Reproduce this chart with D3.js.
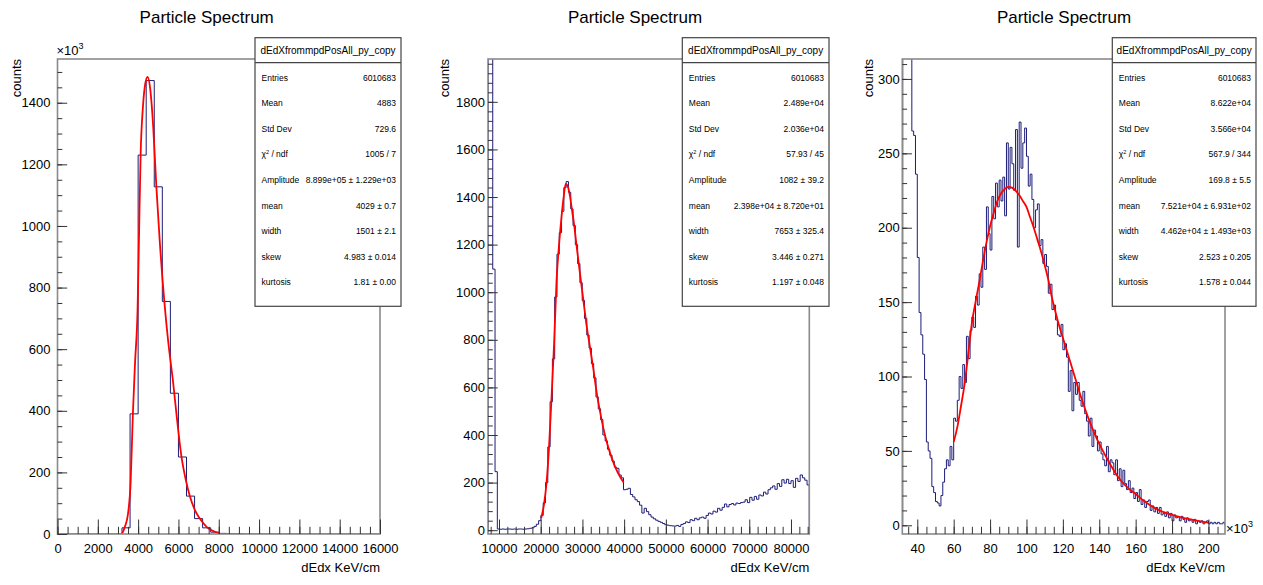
<!doctype html>
<html lang=en>
<head>
<meta charset=utf-8>
<title>Particle Spectrum</title>
<script src="https://d3js.org/d3.v7.min.js"></script>
<style>
  body { margin: 0; background: #fff; }
  svg { display: block; }
  text { font-family: "Liberation Sans", Arial, Helvetica, sans-serif; fill: #000; }
</style>
</head>
<body>
<div id="container"></div>
<script>
// ---- values ----
var histName = "dEdXfrommpdPosAll_py_copy";
var statLabels = ["Entries", "Mean", "Std Dev", "chi2", "Amplitude", "mean", "width", "skew", "kurtosis"];

// panel 1 (counts in units of 10^3)
var h1Start = 0, h1Width = 400;
var h1Counts = [0,0,0,0,0,0,0,0,20,390,1230,1472,1127,755,457,250,123,50,20,6,2,1,1,0,
                0,0,0,0,0,0,0,0,0,0,0,0,0,0,0,0];
var fit1X = [3200,3350,3490,3630,3740,3850,3975,4040,4124,4240,4350,4470,4600,4750,4905,5070,5300,5500,5730,5900,6150,6350,6560,6800,7060,7450,7750,8050];
var fit1Y = [0,25,62,170,391,560,735,953,1231,1388,1460,1484,1445,1320,1127,953,755,620,496,391,251,180,124,80,50,20,9,2];
var stats1 = ["6010683", "4883", "729.6", "1005 / 7", "8.899e+05 \u00b1 1.229e+03", "4029 \u00b1 0.7",
              "1501 \u00b1 2.1", "4.983 \u00b1 0.014", "1.81 \u00b1 0.00"];

// panel 2
var h2Start = 7400, h2Width = 550;
var h2Counts = [3000,3000,1097,246,5,4,5,4,5,5,
                4,5,4,5,5,4,5,6,8,10,
                16,25,40,62,115,200,350,540,720,980,
                1160,1250,1340,1440,1465,1420,1350,1280,1200,1120,
                1040,965,890,820,765,700,640,560,510,465,
                400,375,340,315,290,265,260,232,220,170,
                172,176,150,140,128,120,105,72,92,78,
                65,55,48,42,37,33,28,23,21,19,
                18,17,20,16,24,28,35,32,44,40,
                50,44,52,55,50,62,72,68,80,76,
                92,84,96,110,98,108,112,106,114,112,
                116,118,128,116,138,126,142,130,148,144,
                160,152,170,178,186,172,196,184,212,198,
                214,196,208,180,218,205,232,220,210,190];
var fit2X = [20100,20800,21400,22000,22600,23200,23800,24400,25000,25500,26000,26500,27000,27500,28000,28600,29400,30200,31000,31800,32600,33400,34200,35000,36000,37000,38000,39000,39900];
var fit2Y = [50,110,200,350,560,780,1050,1200,1320,1400,1455,1445,1405,1345,1285,1195,1080,970,860,770,680,580,500,430,360,305,260,225,200];
var stats2 = ["6010683", "2.489e+04", "2.036e+04", "57.93 / 45", "1082 \u00b1 39.2", "2.398e+04 \u00b1 8.720e+01",
              "7653 \u00b1 325.4", "3.446 \u00b1 0.271", "1.197 \u00b1 0.048"];

// panel 3 (x in units of 10^3)
var h3Start = 32, h3Width = 1;
var h3Counts = [500,500,500,480,330,265,262,236,180,143,
                128,115,98,56,50,45,26,22,16,15,
                13,20,29,38,44,40,53,44,72,70,
                84,100,92,108,96,127,112,131,140,133,
                154,148,169,160,187,172,214,196,185,221,
                206,230,214,232,218,234,208,257,226,254,
                243,225,266,187,271,240,257,267,248,228,
                236,219,200,212,216,188,192,176,182,174,
                156,162,145,148,138,128,127,135,118,122,
                113,90,104,77,96,88,96,84,80,90,
                75,70,60,72,53,64,60,50,56,48,
                44,40,53,36,44,42,34,44,30,38,
                26,37,28,24,30,22,25,18,22,16,
                24,14,17,12,16,17,10,13,9,12,
                8,12,7,8,6,9,5,8,3,7,
                5,6,3,6,4,2,5,3,4,2,
                4,1,3,2,3,1,2,3,1,2,
                1,2,1,2,1,1,2];
var fit3X = [60,62,64,66,68,70,72,74,76,78,80,82,84,86,88,90,92,94,96,98,100,102,104,106,108,110,112,114,116,118,120,122,126,130,134,138,142,146,150,155,160,165,170,175,180,185,190,195,200];
var fit3Y = [56,66,80,95,115,136,150,163,177,190,201,210,218,223,226,227.5,227,225,222,218,214,207,200,192,184,175,165,153,143,134,126,118,102,86,72,60,50,41,33,26,21,16,12,9,7,5.3,4,2.8,1.7];
var stats3 = ["6010683", "8.622e+04", "3.566e+04", "567.9 / 344", "169.8 \u00b1 5.5", "7.521e+04 \u00b1 6.931e+02",
              "4.462e+04 \u00b1 1.493e+03", "2.523 \u00b1 0.205", "1.578 \u00b1 0.044"];

// ---- drawing ----
var W = 1263, H = 585;
var svg = d3.select("#container").append("svg").attr("width", W).attr("height", H);

var frameColor = "#8a8a8a", tickColor = "#333", histColor = "#1c1c78", fitColor = "#ff0000";

function ticks(lo, hi, step) {
    return d3.range(Math.ceil(lo / step - 1e-9), Math.floor(hi / step + 1e-9) + 1).map(function(i) { return i * step; });
}

function drawPanel(p) {
    var x = d3.scaleLinear().domain(p.xDomain).range([p.left, p.right]);
    var y = d3.scaleLinear().domain(p.yDomain).range([p.bottom, p.top]);
    var g = svg.append("g");

    g.append("clipPath").attr("id", "clip" + p.id).append("rect")
        .attr("x", p.left).attr("y", p.top)
        .attr("width", p.right - p.left).attr("height", p.bottom - p.top);

    // histogram outline
    var pts = [[p.hStart, 0]];
    p.counts.forEach(function(c, i) {
        pts.push([p.hStart + i * p.hWidth, c]);
        pts.push([p.hStart + (i + 1) * p.hWidth, c]);
    });
    pts.push([p.hStart + p.counts.length * p.hWidth, 0]);
    var line = d3.line().x(function(d) { return x(d[0]); }).y(function(d) { return y(d[1]); });
    g.append("path").attr("d", line(pts)).attr("clip-path", "url(#clip" + p.id + ")")
        .attr("fill", "none").attr("stroke", histColor).attr("stroke-width", 1);

    // fit curve
    var fit = p.fitX.map(function(v, i) { return [v, p.fitY[i]]; });
    g.append("path").attr("d", line.curve(d3.curveMonotoneX)(fit)).attr("clip-path", "url(#clip" + p.id + ")")
        .attr("fill", "none").attr("stroke", fitColor).attr("stroke-width", 1.8);

    // frame
    g.append("rect").attr("x", p.left).attr("y", p.top)
        .attr("width", p.right - p.left).attr("height", p.bottom - p.top)
        .attr("fill", "none").attr("stroke", frameColor).attr("stroke-width", 1.6);

    // x axis, ticks inside the frame
    var xMajor = d3.axisBottom(x).tickValues(ticks(p.xDomain[0], p.xDomain[1], p.xStep))
        .tickSize(-14.5).tickPadding(9.5).tickFormat(d3.format("d"));
    var xMinor = d3.axisBottom(x).tickValues(ticks(p.xDomain[0], p.xDomain[1], p.xMinor))
        .tickSize(-7.2).tickFormat("");
    var yMajor = d3.axisLeft(y).tickValues(ticks(Math.max(0, p.yDomain[0]), p.yDomain[1], p.yStep))
        .tickSize(-9.7).tickPadding(p.yPad).tickFormat(d3.format("d"));
    var yMinor = d3.axisLeft(y).tickValues(ticks(Math.max(0, p.yDomain[0]), p.yDomain[1], p.yMinor))
        .tickSize(-4.8).tickFormat("");

    [[xMinor, "x"], [xMajor, "x"], [yMinor, "y"], [yMajor, "y"]].forEach(function(a) {
        var ag = g.append("g")
            .attr("transform", a[1] == "x" ? "translate(0," + p.bottom + ")" : "translate(" + p.left + ",0)")
            .call(a[0]);
        ag.select(".domain").remove();
        ag.selectAll("line").attr("stroke", tickColor).attr("stroke-width", 1);
        ag.selectAll("text").attr("font-size", 13).attr("fill", "#000")
            .attr("font-family", "'Liberation Sans', Arial, Helvetica, sans-serif");
    });

    // axis titles
    g.append("text").attr("x", p.right).attr("y", 571.5).attr("text-anchor", "end")
        .attr("font-size", 13).text("dEdx KeV/cm");
    g.append("text").attr("transform", "translate(" + p.countsX + "," + p.top + ") rotate(-90)")
        .attr("text-anchor", "end").attr("font-size", 13).text("counts");

    // title
    g.append("text").attr("x", p.titleX).attr("y", 23).attr("text-anchor", "middle")
        .attr("font-size", 17).text("Particle Spectrum");

    // exponent labels
    if (p.expY) {
        var t = g.append("text").attr("x", p.left - 1).attr("y", 55).attr("font-size", 13).text("\u00d710");
        t.append("tspan").attr("font-size", 9).attr("dy", -6).text("3");
    }
    if (p.expX) {
        var t2 = g.append("text").attr("x", p.right + 1).attr("y", 533).attr("font-size", 13).text("\u00d710");
        t2.append("tspan").attr("font-size", 9).attr("dy", -6).text("3");
    }

    // stats box
    var bx = p.boxLeft, bw = p.boxRight - p.boxLeft, by = 37.7, bh = 268.6;
    var sb = svg.append("g");
    sb.append("rect").attr("x", bx).attr("y", by).attr("width", bw).attr("height", bh)
        .attr("fill", "#fff").attr("stroke", "#444").attr("stroke-width", 1.2);
    sb.append("line").attr("x1", bx).attr("x2", bx + bw).attr("y1", 62.7).attr("y2", 62.7)
        .attr("stroke", "#444").attr("stroke-width", 1.2);
    sb.append("text").attr("x", bx + bw / 2).attr("y", 50.5).attr("dy", "0.35em")
        .attr("text-anchor", "middle").attr("font-size", 10).text(histName);
    statLabels.forEach(function(lab, k) {
        var ry = 77.7 + 25.6 * k;
        var lt = sb.append("text").attr("x", bx + 6.5).attr("y", ry).attr("dy", "0.35em").attr("font-size", 8.5);
        if (lab == "chi2") {
            lt.text("\u03c7");
            lt.append("tspan").attr("font-size", 5.5).attr("dy", -3.5).text("2");
            lt.append("tspan").attr("dy", 3.5).text(" / ndf");
        } else {
            lt.text(lab);
        }
        sb.append("text").attr("x", bx + bw - 5).attr("y", ry).attr("dy", "0.35em")
            .attr("text-anchor", "end").attr("font-size", 8.5).text(p.stats[k]);
    });
}

drawPanel({ id: 1, left: 57.5, right: 380, top: 59, bottom: 534,
    xDomain: [0, 16000], yDomain: [0, 1542], xStep: 2000, xMinor: 500, yStep: 200, yMinor: 50, yPad: 7,
    hStart: h1Start, hWidth: h1Width, counts: h1Counts, fitX: fit1X, fitY: fit1Y, stats: stats1,
    titleX: 206.7, countsX: 20.5, boxLeft: 255, boxRight: 401, expY: true });

drawPanel({ id: 2, left: 488, right: 809.3, top: 59, bottom: 534,
    xDomain: [7363, 84390], yDomain: [-16, 1980], xStep: 10000, xMinor: 2000, yStep: 200, yMinor: 40, yPad: 3,
    hStart: h2Start, hWidth: h2Width, counts: h2Counts, fitX: fit2X, fitY: fit2Y, stats: stats2,
    titleX: 635, countsX: 448.5, boxLeft: 682.3, boxRight: 829 });

drawPanel({ id: 3, left: 902.3, right: 1225, top: 59, bottom: 534,
    xDomain: [31.76, 209.1], yDomain: [-5.85, 313.4], xStep: 20, xMinor: 5, yStep: 50, yMinor: 10, yPad: 2.5,
    hStart: h3Start, hWidth: h3Width, counts: h3Counts, fitX: fit3X, fitY: fit3Y, stats: stats3,
    titleX: 1064, countsX: 872.7, boxLeft: 1112.3, boxRight: 1256, expX: true });
</script>
</body>
</html>
